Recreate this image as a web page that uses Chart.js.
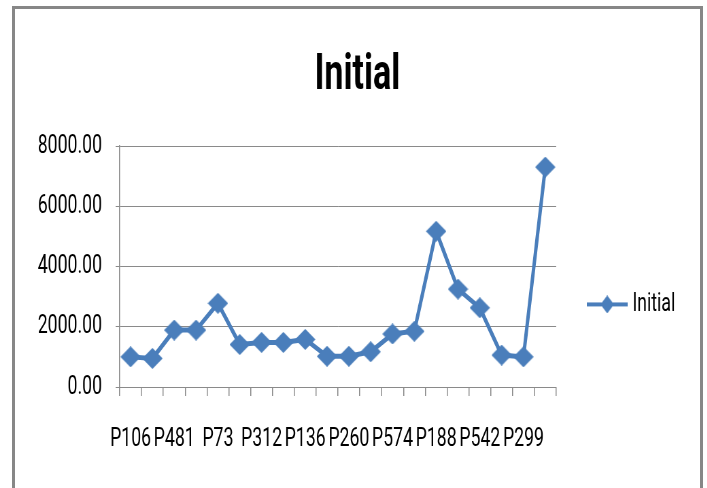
<!DOCTYPE html>
<html>
<head>
<meta charset="utf-8">
<script src="https://cdn.jsdelivr.net/npm/chart.js@4.4.1/dist/chart.umd.min.js"></script>
<style>
  html, body { margin: 0; padding: 0; background: #fff; }
  #wrap { position: relative; width: 707px; height: 488px; overflow: hidden; }
  #frame { position: absolute; left: 12px; top: 6px; width: 685px; height: 500px;
           border: 3px solid #878787; border-bottom: none; }
  /* the original picture is a squeezed office chart: draw wide, then squeeze */
  #myChart { position: absolute; left: 0; top: 0; width: 1040px; height: 488px;
             transform: scaleX(0.68); transform-origin: 0 0; }
</style>
</head>
<body>
<div id="wrap">
  <div id="frame"></div>
  <canvas id="myChart" width="1040" height="488"></canvas>
</div>
<script>
// categories (only every other label is readable in the picture)
var categories = ["P106", "", "P481", "", "P73", "", "P312", "", "P136", "",
  "P260", "", "P574", "", "P188", "", "P542", "", "P299", ""]
var initialValues = [1000, 950, 1890, 1890, 2780, 1410, 1480, 1480, 1580, 1020,
  1020, 1170, 1760, 1850, 5170, 3250, 2630, 1060, 1000, 7300]
var yTicks = [0, 2000, 4000, 6000, 8000]
var seriesName = "Initial"
var chartTitle = "Initial"

const FONT = "Roboto, 'Liberation Sans', sans-serif"
const BLUE = 'rgb(74, 126, 187)'
const GRID = '#8a8a8a'

// diamond marker, drawn wider so it is square after the squeeze
function diamond(w, h, lineLen) {
  const c = document.createElement('canvas')
  const cw = Math.max(w, lineLen || 0)
  c.width = cw
  c.height = h
  const g = c.getContext('2d')
  g.fillStyle = BLUE
  g.strokeStyle = BLUE
  if (lineLen) {
    g.lineWidth = 4
    g.beginPath()
    g.moveTo(0, h / 2)
    g.lineTo(cw, h / 2)
    g.stroke()
  }
  g.beginPath()
  g.moveTo(cw / 2, 0)
  g.lineTo(cw / 2 + w / 2, h / 2)
  g.lineTo(cw / 2, h)
  g.lineTo(cw / 2 - w / 2, h / 2)
  g.closePath()
  g.fill()
  return c
}
const pointMark = diamond(30, 21)
const legendMark = diamond(20, 18, 60)

const data = {
  labels: categories,
  datasets: [
    {
      label: seriesName,
      data: initialValues,
      borderColor: BLUE,
      backgroundColor: BLUE,
      borderWidth: 5,
      pointStyle: pointMark,
      pointRadius: 10,
      pointHoverRadius: 10,
      tension: 0
    }
  ]
}

const config = {
  type: 'line',
  data: data,
  options: {
    responsive: false,
    animation: false,
    layout: {
      padding: { top: 0, right: 37, left: 48, bottom: 0 }
    },
    plugins: {
      title: {
        display: true,
        text: chartTitle,
        color: '#000',
        font: { family: FONT, size: 50, weight: 'bold' },
        padding: { top: 46, bottom: 40 }
      },
      legend: {
        position: 'right',
        align: 'start',
        fullSize: false,
        maxWidth: 222,
        title: { display: true, text: '', padding: { top: 0, bottom: 80 } },
        labels: {
          usePointStyle: true,
          pointStyle: legendMark,
          pointStyleWidth: 48,
          padding: 51,
          color: '#000',
          font: { family: FONT, size: 26 }
        }
      },
      tooltip: { enabled: false }
    },
    scales: {
      x: {
        offset: true,
        grid: {
          offset: true,
          drawOnChartArea: false,
          drawTicks: true,
          tickLength: 9,
          color: GRID,
          lineWidth: 1.5
        },
        border: { color: GRID, width: 1 },
        ticks: {
          autoSkip: false,
          maxRotation: 0,
          minRotation: 0,
          padding: 28,
          color: '#000',
          font: { family: FONT, size: 26 }
        },
        afterFit(scale) { scale.height = 101 }
      },
      y: {
        min: 0,
        max: 8000,
        afterBuildTicks(scale) { scale.ticks = yTicks.map(v => ({ value: v })) },
        grid: {
          color: GRID,
          lineWidth: 1,
          drawTicks: true,
          tickLength: 6
        },
        border: { color: GRID, width: 1.5 },
        ticks: {
          padding: 20,
          color: '#000',
          font: { family: FONT, size: 26 },
          callback: v => Number(v).toFixed(2)
        },
        afterFit(scale) { scale.width = 128 }
      }
    }
  }
}

const myChart = new Chart(document.getElementById('myChart'), config)
</script>
</body>
</html>
